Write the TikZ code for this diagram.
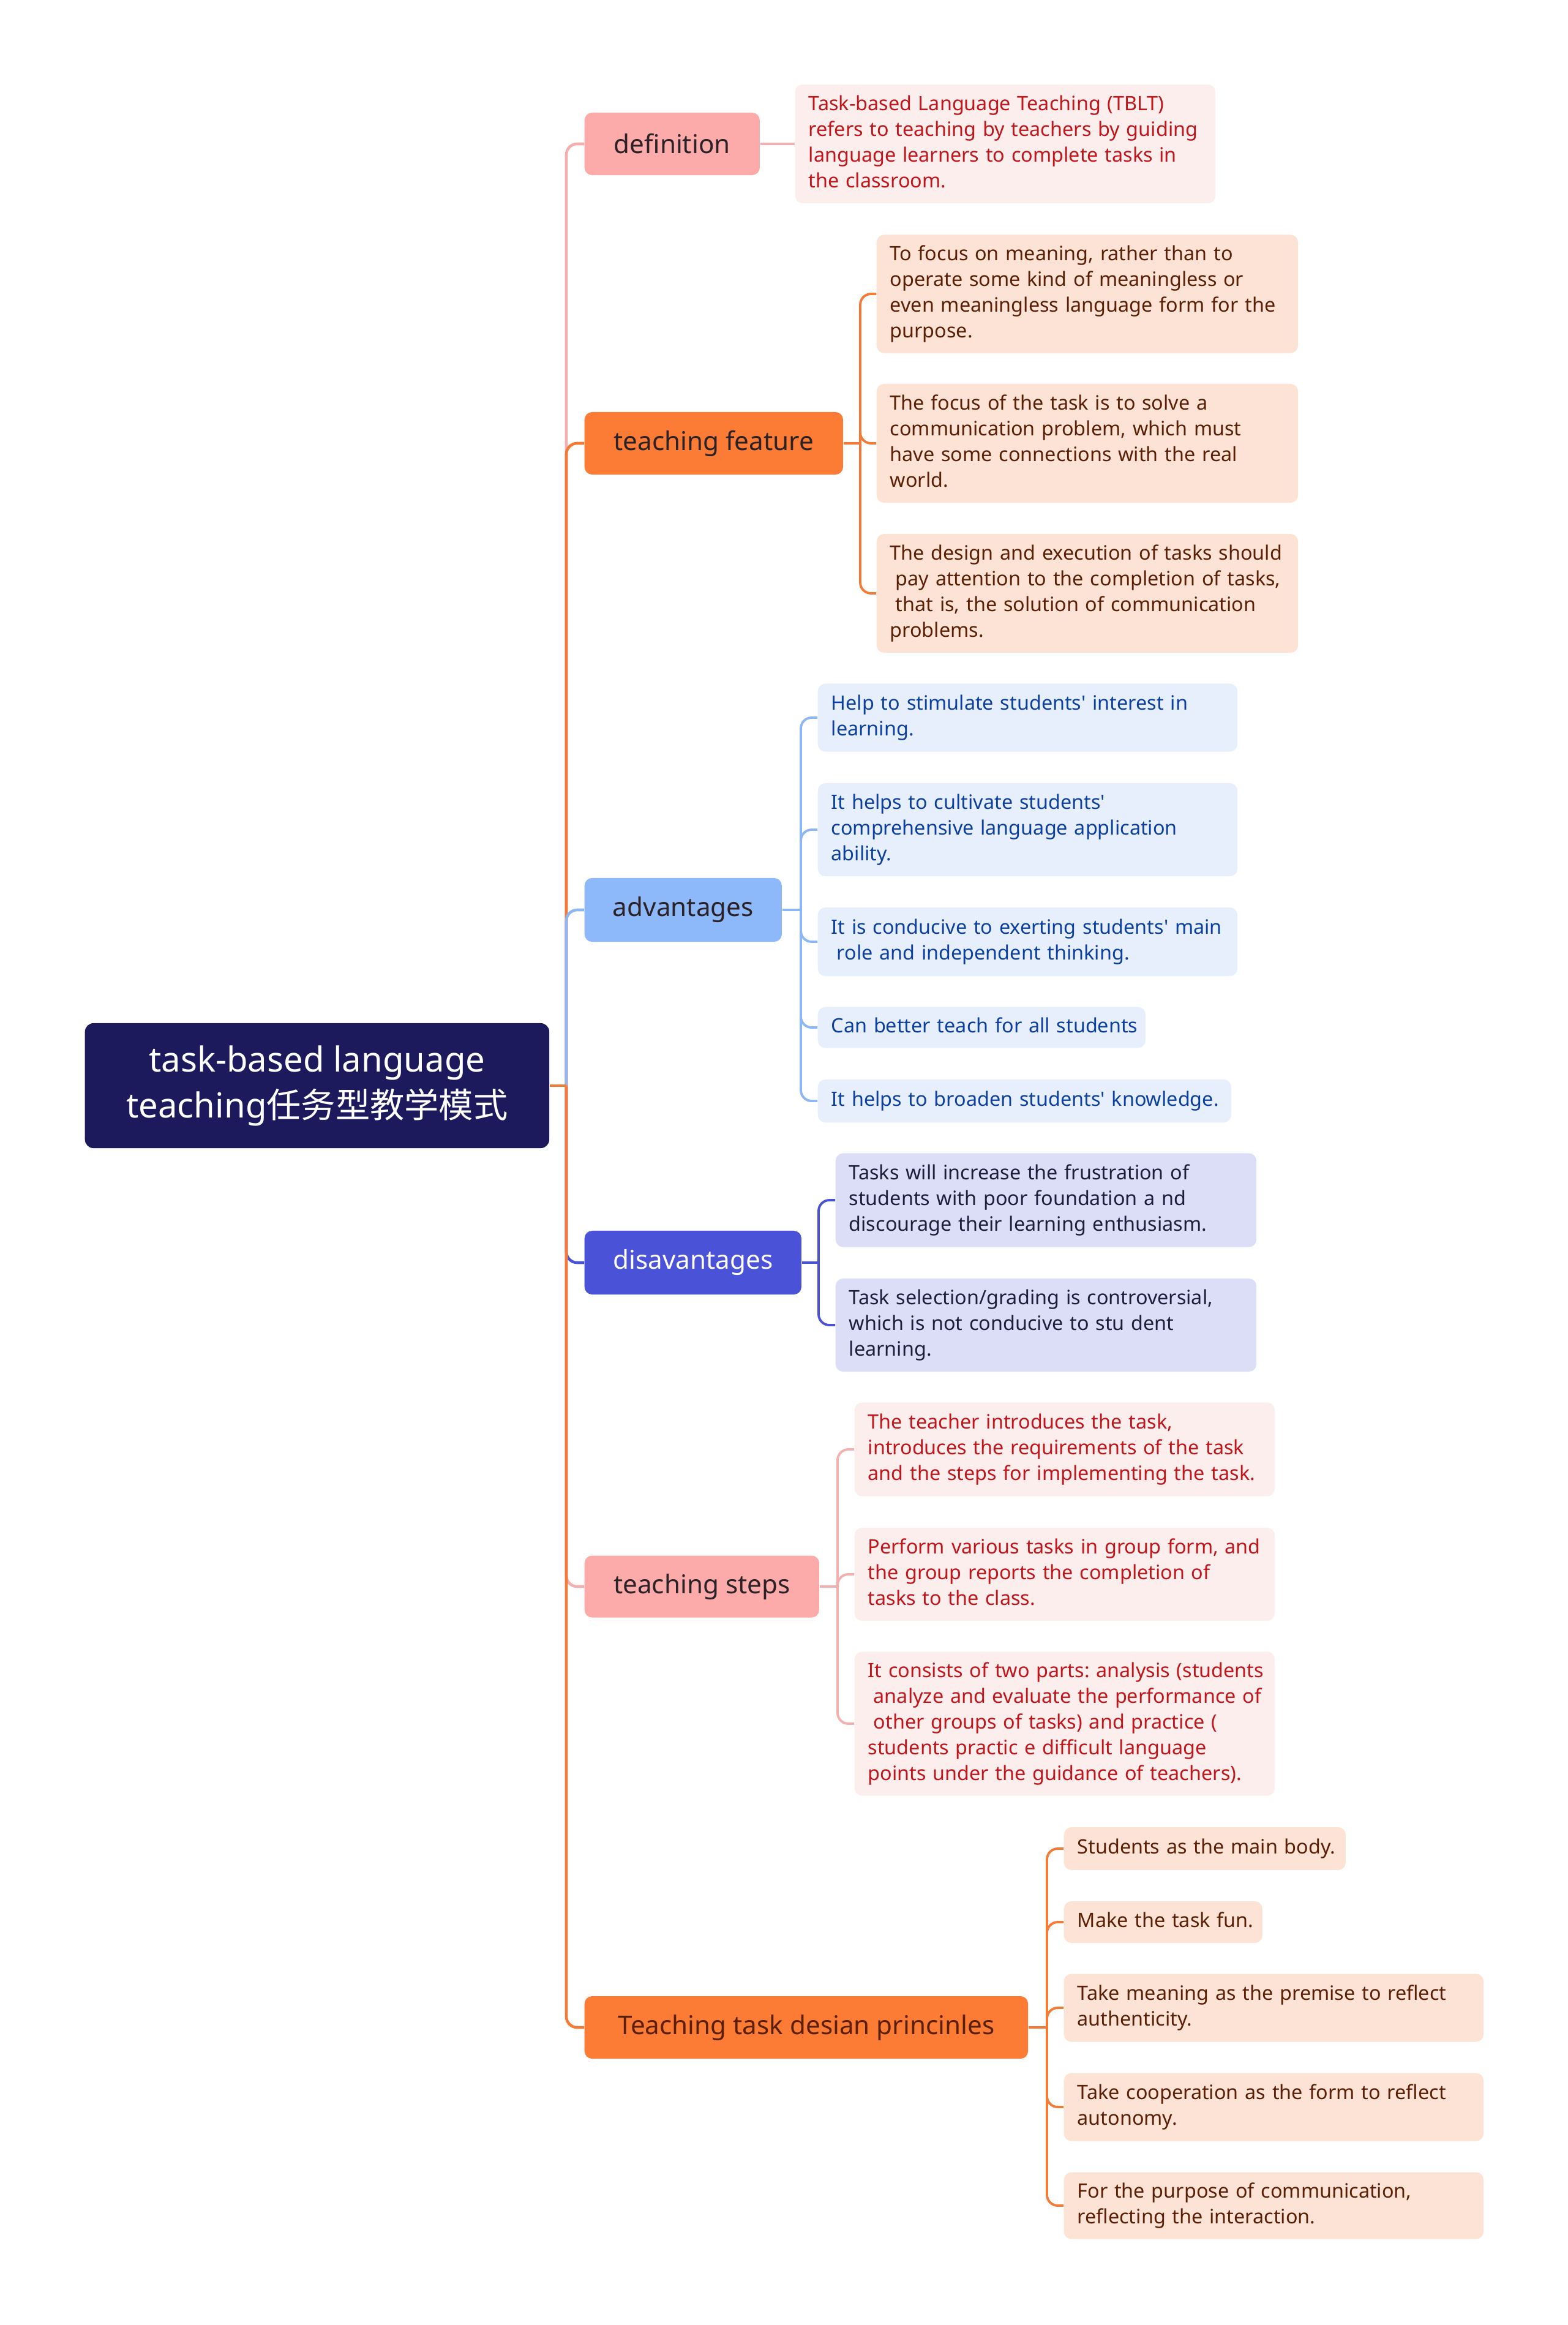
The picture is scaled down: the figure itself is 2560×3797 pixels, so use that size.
\documentclass[tikz,border=0pt]{standalone}
\usepackage{fontspec}
\setmainfont{Noto Sans}[Ligatures=TeXOff]
\newfontfamily\cjkfont{Noto Sans CJK SC}
\frenchspacing

\definecolor{rootnavy}{HTML}{1C1A5C}
\definecolor{pinktopic}{HTML}{FCAAAA}
\definecolor{orangetopic}{HTML}{FD7C35}
\definecolor{bluetopic}{HTML}{8DB8FA}
\definecolor{indigotopic}{HTML}{4A52D8}
\definecolor{pinkleaf}{HTML}{FDEEEE}
\definecolor{peachleaf}{HTML}{FDE3D5}
\definecolor{blueleaf}{HTML}{E7EFFD}
\definecolor{lavleaf}{HTML}{DCDDF7}
\definecolor{topicink}{HTML}{2A2226}
\definecolor{redink}{HTML}{C0151A}
\definecolor{brownink}{HTML}{5A1F05}
\definecolor{blueink}{HTML}{0B3FA0}
\definecolor{lavink}{HTML}{1E1E3C}
\definecolor{pinkline}{HTML}{F5AFAF}
\definecolor{orangeline}{HTML}{F47A36}
\definecolor{blueline}{HTML}{8DB6F5}
\definecolor{indigoline}{HTML}{4A52D8}

\newcommand{\leaflines}[1]{\begin{tabular}{@{}l@{}}#1\end{tabular}}
\newcommand{\lead}{\hspace*{0.28em}}

\begin{document}
\begin{tikzpicture}[x=0.01cm, y=-0.01cm,
	rootbox/.style={fill=rootnavy, text=white, rounded corners=4pt, anchor=west, align=center, inner sep=0pt, font=\fontsize{16}{21.3}\selectfont},
	topic/.style={rounded corners=3.5pt, anchor=west, align=center, inner sep=0pt, text=topicink, font=\fontsize{12}{14}\selectfont},
	leaf/.style={rounded corners=3.5pt, anchor=west, align=left, inner xsep=0.22cm, inner ysep=0pt, font=\fontsize{9.2}{11.9}\selectfont},
	link/.style={line width=1.3pt, rounded corners=5pt},
	twig/.style={line width=1.1pt, rounded corners=5pt}]
	\useasboundingbox (0,0) rectangle (2560,3797);

	% root and main topics
	\node[rootbox, minimum width=7.58cm, minimum height=2.04cm] (root) at (138,1773) {task-based language\\teaching{\cjkfont 任务型教学模式}};
	\node[topic, fill=pinktopic, minimum width=2.86cm, minimum height=1.02cm] (def) at (954,235) {definition};
	\node[topic, fill=orangetopic, minimum width=4.22cm, minimum height=1.02cm] (feat) at (954,724) {teaching feature};
	\node[topic, fill=bluetopic, minimum width=3.22cm, minimum height=1.04cm] (adv) at (954,1486) {advantages};
	\node[topic, fill=indigotopic, text=white, minimum width=3.54cm, minimum height=1.04cm] (dis) at (954,2062) {disavantages};
	\node[topic, fill=pinktopic, minimum width=3.83cm, minimum height=1.01cm] (steps) at (954,2591) {teaching steps};
	\node[topic, fill=orangetopic, text=brownink, minimum width=7.24cm, minimum height=1.02cm] (prin) at (954,3311) {Teaching task desian princinles};

	% definition
	\node[leaf, fill=pinkleaf, text=redink, text width=6.42cm, minimum height=1.94cm] (def1) at (1298,235) {\leaflines{Task-based Language Teaching (TBLT)\\refers to teaching by teachers by guiding\\language learners to complete tasks in\\the classroom.}};

	% teaching feature
	\node[leaf, fill=peachleaf, text=brownink, text width=6.44cm, minimum height=1.93cm] (feat1) at (1431,480) {\leaflines{To focus on meaning, rather than to\\operate some kind of meaningless or\\even meaningless language form for the\\purpose.}};
	\node[leaf, fill=peachleaf, text=brownink, text width=6.44cm, minimum height=1.94cm] (feat2) at (1431,724) {\leaflines{The focus of the task is to solve a\\communication problem, which must\\have some connections with the real\\world.}};
	\node[leaf, fill=peachleaf, text=brownink, text width=6.44cm, minimum height=1.94cm] (feat3) at (1431,969) {\leaflines{The design and execution of tasks should\\\lead pay attention to the completion of tasks,\\\lead that is, the solution of communication\\problems.}};

	% advantages
	\node[leaf, fill=blueleaf, text=blueink, text width=6.41cm, minimum height=1.11cm] (adv1) at (1335,1172) {\leaflines{Help to stimulate students' interest in\\learning.}};
	\node[leaf, fill=blueleaf, text=blueink, text width=6.41cm, minimum height=1.52cm] (adv2) at (1335,1355) {\leaflines{It helps to cultivate students'\\comprehensive language application\\ability.}};
	\node[leaf, fill=blueleaf, text=blueink, text width=6.41cm, minimum height=1.12cm] (adv3) at (1335,1538) {\leaflines{It is conducive to exerting students' main\\\lead role and independent thinking.}};
	\node[leaf, fill=blueleaf, text=blueink, text width=4.91cm, minimum height=0.67cm] (adv4) at (1335,1678) {\leaflines{Can better teach for all students}};
	\node[leaf, fill=blueleaf, text=blueink, text width=6.31cm, minimum height=0.70cm] (adv5) at (1335,1798) {\leaflines{It helps to broaden students' knowledge.}};

	% disavantages
	\node[leaf, fill=lavleaf, text=lavink, text width=6.43cm, minimum height=1.53cm] (dis1) at (1364,1960) {\leaflines{Tasks will increase the frustration of\\students with poor foundation a nd\\discourage their learning enthusiasm.}};
	\node[leaf, fill=lavleaf, text=lavink, text width=6.43cm, minimum height=1.52cm] (dis2) at (1364,2164) {\leaflines{Task selection/grading is controversial,\\which is not conducive to stu dent\\learning.}};

	% teaching steps
	\node[leaf, fill=pinkleaf, text=redink, text width=6.42cm, minimum height=1.53cm] (steps1) at (1395,2367) {\leaflines{The teacher introduces the task,\\introduces the requirements of the task\\and the steps for implementing the task.}};
	\node[leaf, fill=pinkleaf, text=redink, text width=6.42cm, minimum height=1.52cm] (steps2) at (1395,2571) {\leaflines{Perform various tasks in group form, and\\the group reports the completion of\\tasks to the class.}};
	\node[leaf, fill=pinkleaf, text=redink, text width=6.42cm, minimum height=2.35cm] (steps3) at (1395,2815) {\leaflines{It consists of two parts: analysis (students\\\lead analyze and evaluate the performance of\\\lead other groups of tasks) and practice (\\students practic e difficult language\\points under the guidance of teachers).}};

	% design principles
	\node[leaf, fill=peachleaf, text=brownink, text width=4.16cm, minimum height=0.70cm] (prin1) at (1737,3019) {\leaflines{Students as the main body.}};
	\node[leaf, fill=peachleaf, text=brownink, text width=2.80cm, minimum height=0.68cm] (prin2) at (1737,3139) {\leaflines{Make the task fun.}};
	\node[leaf, fill=peachleaf, text=brownink, text width=6.41cm, minimum height=1.11cm] (prin3) at (1737,3279) {\leaflines{Take meaning as the premise to reflect\\authenticity.}};
	\node[leaf, fill=peachleaf, text=brownink, text width=6.41cm, minimum height=1.11cm] (prin4) at (1737,3441) {\leaflines{Take cooperation as the form to reflect\\autonomy.}};
	\node[leaf, fill=peachleaf, text=brownink, text width=6.41cm, minimum height=1.09cm] (prin5) at (1737,3602) {\leaflines{For the purpose of communication,\\reflecting the interaction.}};

	% trunk from the root
	\coordinate (hub) at (925,1773);
	\draw[link, pinkline] (hub) |- (def.west);
	\draw[link, orangeline] (hub) |- (feat.west);
	\draw[link, blueline] (hub) |- (adv.west);
	\draw[link, indigoline] (hub) |- (dis.west);
	\draw[link, pinkline] (hub) |- (steps.west);
	\draw[link, orangeline] (hub) |- (prin.west);
	\draw[link, orangeline] (root.east) -- (hub);

	% forks to the leaves
	\draw[twig, pinkline] (def.east) -- (def1.west);

	\coordinate (featfork) at (1405,724);
	\draw[twig, orangeline] (feat.east) -- (featfork);
	\foreach \n in {feat1,feat2,feat3}
		\draw[twig, orangeline] (featfork) |- (\n.west);

	\coordinate (advfork) at (1308,1486);
	\draw[twig, blueline] (adv.east) -- (advfork);
	\foreach \n in {adv1,adv2,adv3,adv4,adv5}
		\draw[twig, blueline] (advfork) |- (\n.west);

	\coordinate (disfork) at (1337,2062);
	\draw[twig, indigoline] (dis.east) -- (disfork);
	\foreach \n in {dis1,dis2}
		\draw[twig, indigoline] (disfork) |- (\n.west);

	\coordinate (stepsfork) at (1368,2591);
	\draw[twig, pinkline] (steps.east) -- (stepsfork);
	\foreach \n in {steps1,steps2,steps3}
		\draw[twig, pinkline] (stepsfork) |- (\n.west);

	\coordinate (prinfork) at (1710,3311);
	\draw[twig, orangeline] (prin.east) -- (prinfork);
	\foreach \n in {prin1,prin2,prin3,prin4,prin5}
		\draw[twig, orangeline] (prinfork) |- (\n.west);
\end{tikzpicture}
\end{document}
